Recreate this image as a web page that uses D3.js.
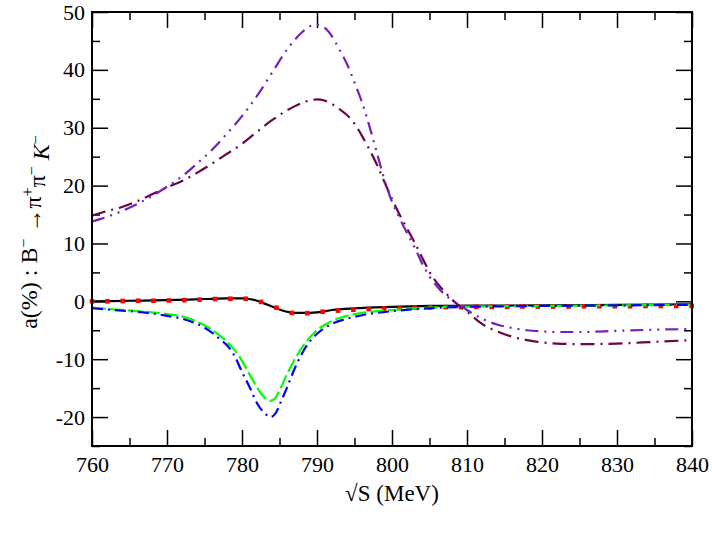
<!DOCTYPE html>
<html lang="en">
<head>
    <meta charset="UTF-8">
    <title>a(%) : B- to pi+ pi- K-</title>
    <style>
        body { margin: 0; background: #fff; }
        svg { display: block; font-family: "Liberation Serif", Times, "DejaVu Serif", serif; }
        .axis line { stroke: #000; stroke-width: 1.5; }
        .axis path { stroke: none; }
        .curve { fill: none; stroke-width: 2.2; }
    </style>
    <script src="https://d3js.org/d3.v7.min.js"></script>
</head>
<body>
<svg id="chart" width="712" height="536"></svg>
<script>
    // x positions (MeV) and asymmetry values (%)
    const wideX = [760, 762, 764, 766, 768, 770, 772, 774, 776, 778, 780, 782, 784, 786, 788,
        789, 790, 791, 792, 793, 794, 795, 796, 797, 798, 799, 800, 801, 802, 803, 804, 805,
        806, 807, 808, 809, 810, 812, 814, 816, 818, 820, 822, 825, 830, 835, 840];
    const purpleY = [13.8, 14.6, 15.6, 16.8, 18.2, 19.8, 21.6, 23.8, 26.2, 29.0, 32.0, 35.5, 39.5, 43.5, 46.5,
        47.5, 47.8, 47.3, 45.8, 43.5, 41.0, 37.8, 34.4, 30.2, 25.6, 21.0, 17.2, 14.4, 11.8, 9.4, 6.6, 4.3,
        2.6, 1.2, 0.2, -0.6, -1.5, -3.0, -4.0, -4.6, -5.0, -5.2, -5.3, -5.3, -5.1, -4.9, -4.8];
    const maroonY = [14.8, 15.6, 16.3, 17.3, 18.5, 19.7, 20.8, 22.2, 23.8, 25.5, 27.2, 29.3, 31.3, 33.0, 34.3,
        34.7, 34.9, 34.7, 34.1, 33.2, 32.2, 30.7, 28.6, 26.2, 23.6, 20.6, 17.7, 15.0, 12.6, 10.2, 7.6, 5.1,
        3.2, 1.7, 0.3, -0.8, -1.8, -3.9, -5.2, -6.1, -6.7, -7.1, -7.3, -7.4, -7.3, -7.0, -6.7];

    const dipX = [760, 762, 764, 766, 768, 770, 772, 774, 776, 777, 778, 779, 780, 781, 782, 783,
        783.8, 784.5, 785, 786, 787, 788, 789, 790, 791, 792, 794, 796, 798, 800, 805, 810, 820, 830, 840];
    const greenY = [-1.1, -1.3, -1.5, -1.7, -1.9, -2.2, -2.6, -3.5, -4.9, -5.9, -7.0, -8.4, -10.3, -12.6, -14.9, -16.6,
        -17.2, -16.6, -15.4, -12.6, -10.1, -8.0, -6.3, -5.0, -4.1, -3.4, -2.5, -2.0, -1.7, -1.5, -1.1, -0.9, -0.8, -0.7, -0.6];
    const blueY = [-1.2, -1.4, -1.6, -1.8, -2.1, -2.5, -3.0, -3.9, -5.4, -6.5, -7.6, -9.4, -12.2, -14.8, -17.6, -19.3,
        -20.0, -19.3, -17.9, -14.9, -11.7, -9.0, -7.0, -5.6, -4.6, -3.9, -3.0, -2.4, -2.0, -1.7, -1.2, -0.95, -0.8, -0.7, -0.6];

    const blackX = [760, 765, 770, 775, 778, 780, 781, 782, 783, 784, 785, 786, 787, 788, 790, 792, 795, 800, 805, 810, 820, 830, 840];
    const blackY = [0, 0.1, 0.2, 0.4, 0.5, 0.5, 0.4, 0.1, -0.4, -0.9, -1.4, -1.8, -2.0, -2.0, -1.9, -1.5, -1.2, -0.95, -0.8, -0.75, -0.7, -0.6, -0.5];

    const redX = [760, 762.05, 764.1, 766.15, 768.2, 770.25, 772.3, 774.35, 776.4, 778.45, 780.5, 782.55, 784.6,
        786.65, 788.7, 790.75, 792.8, 794.85, 796.9, 798.95, 801, 803.05, 805.1, 807.15, 809.2, 811.25, 813.3,
        815.35, 817.4, 819.45, 821.5, 823.55, 825.6, 827.65, 829.7, 831.75, 833.8, 835.85, 837.9, 839.95];
    const redY = [0, 0, 0.05, 0.1, 0.1, 0.15, 0.2, 0.3, 0.4, 0.45, 0.45, -0.1, -1.1,
        -2.0, -2.05, -1.8, -1.6, -1.45, -1.35, -1.25, -1.15, -1.1, -1.05, -1.0, -1.0, -0.95, -0.95,
        -0.95, -0.9, -0.9, -0.9, -0.9, -0.85, -0.85, -0.85, -0.85, -0.8, -0.8, -0.8, -0.8];

    const xMajor = [760, 770, 780, 790, 800, 810, 820, 830, 840];
    const yMajor = [-20, -10, 0, 10, 20, 30, 40, 50];

    const serif = '"Liberation Serif", Times, "DejaVu Serif", serif';

    const svg = d3.select("#chart");
    const margin = { top: 12, right: 20, bottom: 90, left: 92 };
    const width = 712 - margin.left - margin.right;
    const height = 536 - margin.top - margin.bottom;

    const x = d3.scaleLinear().domain([760, 840]).range([0, width]);
    const y = d3.scaleLinear().domain([-25, 50]).range([height, 0]);

    const chart = svg.append("g")
        .attr("transform", `translate(${margin.left},${margin.top})`);

    const xMinor = d3.range(765, 840, 10);
    const yMinor = d3.range(-25, 50, 10);

    // major ticks with labels (inward)
    const xAxisG = chart.append("g").attr("class", "axis")
        .attr("transform", `translate(0,${height})`)
        .call(d3.axisBottom(x).tickValues(xMajor).tickSize(-16).tickPadding(10).tickFormat(d3.format("d")));
    const yAxisG = chart.append("g").attr("class", "axis")
        .call(d3.axisLeft(y).tickValues(yMajor).tickSize(-16).tickPadding(7).tickFormat(d => d < 0 ? "-" + Math.abs(d) : d));
    [xAxisG, yAxisG].forEach(g => {
        g.attr("font-family", serif).attr("font-size", 22);
        g.selectAll("text").attr("fill", "#000");
    });

    chart.append("g").attr("class", "axis")
        .call(d3.axisTop(x).tickValues(xMajor).tickSize(-16).tickFormat(""));
    chart.append("g").attr("class", "axis")
        .attr("transform", `translate(${width},0)`)
        .call(d3.axisRight(y).tickValues(yMajor).tickSize(-16).tickFormat(""));

    // minor ticks
    chart.append("g").attr("class", "axis")
        .attr("transform", `translate(0,${height})`)
        .call(d3.axisBottom(x).tickValues(xMinor).tickSize(-8).tickFormat(""));
    chart.append("g").attr("class", "axis")
        .call(d3.axisTop(x).tickValues(xMinor).tickSize(-8).tickFormat(""));
    chart.append("g").attr("class", "axis")
        .call(d3.axisLeft(y).tickValues(yMinor).tickSize(-8).tickFormat(""));
    chart.append("g").attr("class", "axis")
        .attr("transform", `translate(${width},0)`)
        .call(d3.axisRight(y).tickValues(yMinor).tickSize(-8).tickFormat(""));

    const line = d3.line()
        .x(d => x(d[0]))
        .y(d => y(d[1]))
        .curve(d3.curveMonotoneX);

    const plot = chart.append("g");

    plot.append("path")
        .attr("class", "curve")
        .attr("d", line(d3.zip(blackX, blackY)))
        .attr("stroke", "#000");

    plot.selectAll(".dot")
        .data(d3.zip(redX, redY))
        .enter()
        .append("rect")
        .attr("class", "dot")
        .attr("x", d => x(d[0]) - 2.3)
        .attr("y", d => y(d[1]) - 2.3)
        .attr("width", 4.6)
        .attr("height", 4.6)
        .attr("fill", "#ff0000");

    const curves = [
        { xs: dipX, ys: greenY, color: "#00ff00", dash: "14,4" },
        { xs: dipX, ys: blueY, color: "#0000ff", dash: "11,5,2,5" },
        { xs: wideX, ys: maroonY, color: "#670748", dash: "14,6,2,6" },
        { xs: wideX, ys: purpleY, color: "#7221bc", dash: "13,6,2,6,2,6" }
    ];

    curves.forEach(c => {
        plot.append("path")
            .attr("class", "curve")
            .attr("d", line(d3.zip(c.xs, c.ys)))
            .attr("stroke", c.color)
            .attr("stroke-dasharray", c.dash);
    });

    // frame
    chart.append("rect")
        .attr("width", width)
        .attr("height", height)
        .attr("fill", "none")
        .attr("stroke", "#000")
        .attr("stroke-width", 2);

    // axis titles
    svg.append("text")
        .attr("x", margin.left + width / 2)
        .attr("y", 501)
        .attr("text-anchor", "middle")
        .attr("font-family", serif)
        .attr("font-size", 23)
        .text("\u221AS (MeV)");

    const yTitle = svg.append("text")
        .attr("transform", `translate(37,${margin.top + height / 2 + 3}) rotate(-90)`)
        .attr("text-anchor", "middle")
        .attr("font-family", serif)
        .attr("font-size", 24);
    yTitle.append("tspan").text("a(%) : B");
    yTitle.append("tspan").attr("dy", "-0.5em").attr("font-size", 16).text("\u2212");
    yTitle.append("tspan").attr("dy", "0.5em").text(" \u2192\u03C0");
    yTitle.append("tspan").attr("dy", "-0.5em").attr("font-size", 16).text("+");
    yTitle.append("tspan").attr("dy", "0.5em").text("\u03C0");
    yTitle.append("tspan").attr("dy", "-0.5em").attr("font-size", 16).text("\u2212");
    yTitle.append("tspan").attr("dy", "0.5em").text(" ");
    yTitle.append("tspan").attr("font-style", "italic").text("K");
    yTitle.append("tspan").attr("dy", "-0.5em").attr("font-size", 16).text("\u2212");
</script>
</body>
</html>
